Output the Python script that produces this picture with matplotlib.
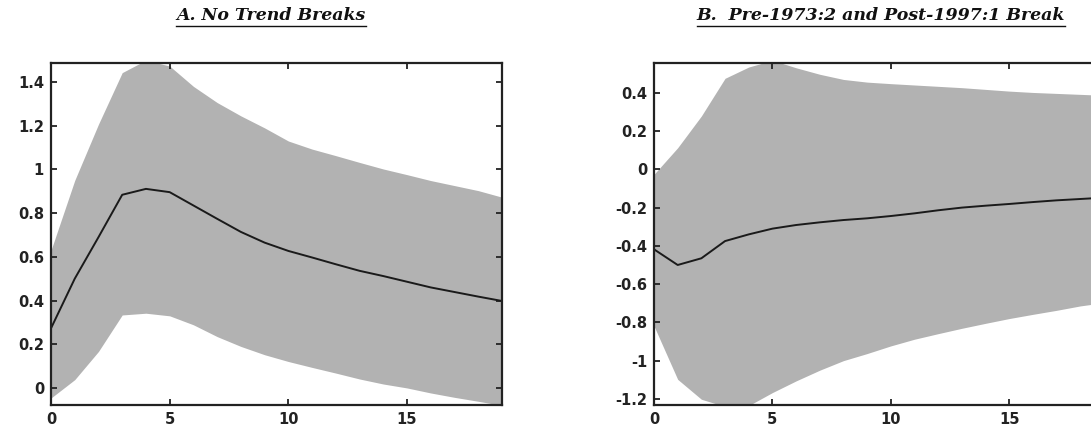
import matplotlib
matplotlib.use("Agg")
import matplotlib.pyplot as plt
from matplotlib.ticker import FuncFormatter
from matplotlib.lines import Line2D

plt.rcParams["axes.unicode_minus"] = False

horizon = list(range(20))

# Panel A: no trend breaks
a_median = [0.273, 0.50, 0.69, 0.884, 0.911, 0.896, 0.835, 0.774, 0.714, 0.665,
            0.627, 0.597, 0.566, 0.536, 0.512, 0.486, 0.46, 0.439, 0.418, 0.398]
a_upper = [0.63, 0.95, 1.207, 1.443, 1.50, 1.473, 1.38, 1.306, 1.245, 1.19,
           1.13, 1.093, 1.063, 1.032, 1.002, 0.976, 0.949, 0.926, 0.903, 0.873]
a_lower = [-0.046, 0.038, 0.167, 0.334, 0.342, 0.33, 0.289, 0.235, 0.19, 0.152,
           0.121, 0.094, 0.068, 0.041, 0.018, 0.0, -0.023, -0.043, -0.061, -0.08]

# Panel B: pre-1973:2 and post-1997:1 break
b_median = [-0.418, -0.50, -0.465, -0.375, -0.34, -0.31, -0.291, -0.277, -0.265, -0.256,
            -0.244, -0.23, -0.214, -0.20, -0.19, -0.181, -0.171, -0.162, -0.155, -0.148]
b_upper = [-0.026, 0.113, 0.279, 0.476, 0.535, 0.57, 0.531, 0.497, 0.47, 0.456,
           0.448, 0.441, 0.434, 0.427, 0.418, 0.409, 0.402, 0.397, 0.392, 0.387]
b_lower = [-0.819, -1.098, -1.202, -1.24, -1.235, -1.167, -1.106, -1.05, -1.0, -0.963,
           -0.923, -0.888, -0.859, -0.831, -0.805, -0.78, -0.758, -0.737, -0.714, -0.697]

a_title = "A. No Trend Breaks"
b_title = "B.  Pre-1973:2 and Post-1997:1 Break"
a_yticks = [0, 0.2, 0.4, 0.6, 0.8, 1.0, 1.2, 1.4]
b_yticks = [-1.2, -1.0, -0.8, -0.6, -0.4, -0.2, 0, 0.2, 0.4]
xticks = [0, 5, 10, 15]

fig = plt.figure(figsize=(10.91, 4.34), dpi=100)
ax_a = fig.add_axes([51 / 1091, 1 - 405 / 434, 451 / 1091, 342 / 434])
ax_b = fig.add_axes([654 / 1091, 1 - 405 / 434, 450 / 1091, 342 / 434])

fmt = FuncFormatter(lambda v, p: "%g" % round(v, 2))


def draw_panel(ax, median, upper, lower, yticks, ylim):
    ax.fill_between(horizon, lower, upper, color="#b2b2b2", linewidth=0)
    ax.plot(horizon, median, color="#1a1a1a", linewidth=1.4)
    ax.set_xlim(0, 19)
    ax.set_ylim(*ylim)
    ax.set_xticks(xticks)
    ax.set_yticks(yticks)
    ax.yaxis.set_major_formatter(fmt)
    ax.tick_params(direction="in", length=4, width=1.3, top=True, right=True,
                   labelsize=10.5, pad=5, colors="#222222")
    for lab in ax.get_xticklabels() + ax.get_yticklabels():
        lab.set_fontweight("bold")
        lab.set_family("DejaVu Sans")
    for s in ax.spines.values():
        s.set_linewidth(1.6)
        s.set_color("#222222")


draw_panel(ax_a, a_median, a_upper, a_lower, a_yticks, (-0.078, 1.487))
draw_panel(ax_b, b_median, b_upper, b_lower, b_yticks, (-1.232, 0.556))

titles = [(a_title, 271 / 1091), (b_title, 881 / 1091)]
text_objs = []
for t, xc in titles:
    txt = fig.text(xc, 1 - 16 / 434, t, ha="center", va="center",
                   family="DejaVu Serif", style="italic", fontweight="bold",
                   fontsize=12.5, color="#111111")
    text_objs.append(txt)

fig.canvas.draw()
renderer = fig.canvas.get_renderer()
for txt in text_objs:
    bb = txt.get_window_extent(renderer).transformed(fig.transFigure.inverted())
    yline = bb.y0 - 1.0 / 434
    fig.add_artist(Line2D([bb.x0, bb.x1], [yline, yline], transform=fig.transFigure,
                          color="#111111", linewidth=1.0))

fig.savefig("out.png", dpi=100)
